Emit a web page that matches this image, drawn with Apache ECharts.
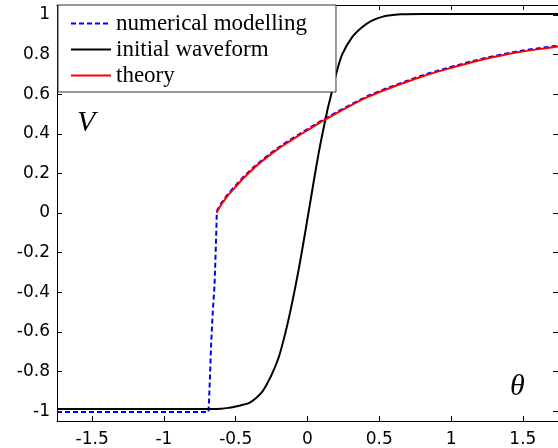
<!DOCTYPE html>
<html>
<head>
<meta charset="utf-8">
<script src="https://cdn.jsdelivr.net/npm/echarts@6/dist/echarts.min.js"></script>
<style>html,body{margin:0;padding:0;background:#fff;}#c{width:558px;height:448px;}</style>
</head>
<body>
<div id="c"></div>
<script>
// ---- data ----
const xTicks = [-1.5, -1, -0.5, 0, 0.5, 1, 1.5];
const yTicks = [-1, -0.8, -0.6, -0.4, -0.2, 0, 0.2, 0.4, 0.6, 0.8, 1];

const numX = [-1.745, -0.69, -0.686, -0.678, -0.671, -0.66, -0.648, -0.64, -0.634, -0.632, -0.625, -0.6, -0.56, -0.521, -0.45, -0.37, -0.29, -0.2, -0.12, -0.059, 0.0, 0.08, 0.126, 0.2, 0.31, 0.42, 0.542, 0.66, 0.773, 0.89, 1.003, 1.12, 1.235, 1.35, 1.466, 1.6, 1.745];
const numV = [-1.005, -1.005, -0.95, -0.8, -0.656, -0.5, -0.371, -0.2, -0.06, 0.006, 0.02, 0.05, 0.09, 0.123, 0.18, 0.235, 0.283, 0.332, 0.37, 0.397, 0.423, 0.459, 0.478, 0.508, 0.551, 0.591, 0.627, 0.659, 0.688, 0.715, 0.738, 0.761, 0.782, 0.8, 0.816, 0.831, 0.845];

const waveX = [-1.745, -0.8, -0.6, -0.544, -0.5, -0.45, -0.405, -0.36, -0.313, -0.28, -0.244, -0.198, -0.151, -0.116, -0.071, -0.04, -0.012, 0.02, 0.057, 0.091, 0.137, 0.16, 0.195, 0.241, 0.31, 0.38, 0.449, 0.52, 0.565, 0.65, 0.8, 1.745];
const waveV = [-0.99, -0.99, -0.988, -0.983, -0.977, -0.968, -0.958, -0.935, -0.9, -0.86, -0.807, -0.723, -0.596, -0.484, -0.322, -0.198, -0.08, 0.058, 0.217, 0.353, 0.514, 0.583, 0.69, 0.8, 0.887, 0.938, 0.971, 0.99, 0.997, 1.003, 1.005, 1.005];

const theoryX = [-0.632, -0.625, -0.6, -0.56, -0.521, -0.45, -0.37, -0.29, -0.2, -0.12, -0.059, 0.0, 0.08, 0.126, 0.2, 0.31, 0.42, 0.542, 0.66, 0.773, 0.89, 1.003, 1.12, 1.235, 1.35, 1.466, 1.6, 1.745];
const theoryV = [0.0, 0.012, 0.043, 0.083, 0.116, 0.173, 0.229, 0.277, 0.326, 0.364, 0.392, 0.418, 0.454, 0.473, 0.503, 0.546, 0.586, 0.622, 0.654, 0.683, 0.71, 0.733, 0.756, 0.777, 0.795, 0.811, 0.826, 0.84];

const names = ['numerical modelling', 'initial waveform', 'theory'];

const zip = (xs, ys) => xs.map((x, i) => [x, ys[i]]);

const chart = echarts.init(document.getElementById('c'), null, {renderer: 'canvas'});
const axisCommon = {
  type: 'value',
  axisLine: {show: true, onZero: false, lineStyle: {color: '#000', width: 1}},
  splitLine: {show: false}
};
const labelFont = {color: '#000', fontFamily: 'DejaVu Sans', fontSize: 17};
chart.setOption({
  animation: false,
  backgroundColor: '#fff',
  grid: {left: 57, top: 5, width: 503, height: 417, containLabel: false},
  xAxis: [
    Object.assign({}, axisCommon, {
      min: -1.745, max: 1.745, position: 'bottom',
      axisTick: {show: true, inside: true, length: 5, customValues: xTicks, lineStyle: {color: '#000'}},
      axisLabel: Object.assign({show: true, margin: 10, customValues: xTicks}, labelFont)
    }),
    Object.assign({}, axisCommon, {
      min: -1.745, max: 1.745, position: 'top',
      axisTick: {show: true, inside: true, length: 5, customValues: xTicks, lineStyle: {color: '#000'}},
      axisLabel: {show: false}
    })
  ],
  yAxis: [
    Object.assign({}, axisCommon, {
      min: -1.05, max: 1.05, position: 'left',
      axisTick: {show: true, inside: true, length: 5, customValues: yTicks, lineStyle: {color: '#000'}},
      axisLabel: Object.assign({show: true, margin: 7, customValues: yTicks}, labelFont)
    }),
    Object.assign({}, axisCommon, {
      min: -1.05, max: 1.05, position: 'right',
      axisTick: {show: true, inside: true, length: 5, customValues: yTicks, lineStyle: {color: '#000'}},
      axisLabel: {show: false}
    })
  ],
  legend: {
    data: names,
    orient: 'vertical',
    left: 58, top: 5,
    padding: [7, 29, 5, 12],
    itemGap: 3,
    itemWidth: 40,
    itemHeight: 14,
    backgroundColor: '#fff',
    borderColor: '#333',
    borderWidth: 1,
    borderRadius: 0,
    selectedMode: false,
    itemStyle: {opacity: 0, borderWidth: 0},
    textStyle: {fontFamily: 'Liberation Serif', fontSize: 23, color: '#000'}
  },
  graphic: [
    {type: 'text', left: 77, top: 108, style: {text: 'V', font: 'italic 30px "Liberation Serif"', fill: '#000'}},
    {type: 'text', left: 510, top: 372, style: {text: 'θ', font: 'italic 30px "Liberation Serif"', fill: '#000'}}
  ],
  series: [
    {name: names[0], type: 'line', data: zip(numX, numV), showSymbol: false, symbol: 'none',
     lineStyle: {color: '#0000ff', width: 2, type: [5, 3]}, itemStyle: {color: '#0000ff'}, z: 2},
    {name: names[1], type: 'line', data: zip(waveX, waveV), showSymbol: false, symbol: 'none', smooth: 0.3,
     lineStyle: {color: '#000', width: 2}, itemStyle: {color: '#000'}, z: 3},
    {name: names[2], type: 'line', data: zip(theoryX, theoryV), showSymbol: false, symbol: 'none', smooth: 0.3,
     lineStyle: {color: '#ff0000', width: 2}, itemStyle: {color: '#ff0000'}, z: 4}
  ]
});
</script>
</body>
</html>
